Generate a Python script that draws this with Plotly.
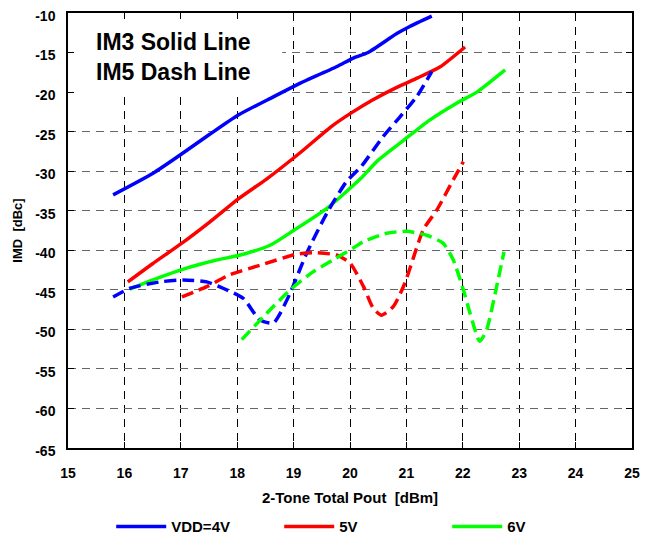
import plotly.graph_objects as go

# IM3 (solid) data
im3_4v_x = [15.8, 16.5, 17.02, 17.5, 18.02, 18.64, 19.11, 19.23, 19.76, 20.06, 20.32, 20.83, 21.06, 21.45]
im3_4v_y = [-33.0, -30.3, -27.8, -25.4, -22.9, -20.6, -18.9, -18.5, -16.8, -15.7, -15.0, -12.6, -11.7, -10.4]

im3_5v_x = [16.06, 16.5, 17.02, 17.5, 18.02, 18.52, 19.11, 19.68, 20.03, 20.4, 20.83, 21.2, 21.6, 22.04]
im3_5v_y = [-44.0, -41.7, -39.1, -36.5, -33.5, -31.0, -27.7, -24.3, -22.6, -21.0, -19.4, -18.2, -16.8, -14.3]

im3_6v_x = [16.1, 16.6, 17.13, 17.6, 18.11, 18.6, 19.0, 19.59, 20.18, 20.5, 20.95, 21.4, 21.89, 22.25, 22.75]
im3_6v_y = [-44.9, -43.5, -42.2, -41.3, -40.5, -39.3, -37.5, -34.7, -31.0, -28.6, -26.1, -23.6, -21.4, -20.0, -17.2]

# IM5 (dashed) data
im5_4v_x = [15.8, 16.1, 16.63, 17.04, 17.46, 17.75, 18.11, 18.4, 18.64, 18.76, 18.94, 19.23, 19.59, 19.94, 20.2, 20.59, 20.89, 21.18, 21.45]
im5_4v_y = [-45.9, -44.8, -44.0, -43.75, -44.0, -44.8, -46.1, -48.8, -49.2, -48.0, -45.4, -40.4, -35.3, -31.3, -29.4, -25.6, -23.1, -20.6, -17.4]

im5_5v_x = [17.02, 17.46, 17.87, 18.4, 19.05, 19.35, 19.76, 20.0, 20.24, 20.41, 20.56, 20.77, 20.97, 21.3, 21.54, 21.83, 22.01]
im5_5v_y = [-45.9, -44.6, -43.1, -41.9, -40.5, -40.3, -40.6, -41.6, -44.6, -47.3, -48.2, -47.1, -44.2, -37.4, -34.9, -31.1, -28.8]

im5_6v_x = [18.08, 18.52, 18.94, 19.35, 19.73, 20.05, 20.24, 20.65, 21.0, 21.36, 21.65, 21.83, 22.01, 22.13, 22.3, 22.42, 22.6, 22.73]
im5_6v_y = [-51.3, -48.0, -45.0, -42.7, -41.1, -39.75, -38.9, -37.85, -37.6, -38.1, -39.1, -41.2, -45.0, -48.0, -51.5, -50.1, -44.6, -40.2]

series_names = ["VDD=4V", "5V", "6V"]
colors = ["#0000FF", "#FF0000", "#00FF00"]

x_ticks = list(range(15, 26))
y_ticks = list(range(-65, -9, 5))
y_tick_text = [str(v) for v in y_ticks]

fig = go.Figure()

solid = [(im3_4v_x, im3_4v_y), (im3_5v_x, im3_5v_y), (im3_6v_x, im3_6v_y)]
dashed = [(im5_4v_x, im5_4v_y), (im5_5v_x, im5_5v_y), (im5_6v_x, im5_6v_y)]

for (sx, sy), name, c in zip(solid, series_names, colors):
    fig.add_trace(go.Scatter(x=sx, y=sy, mode="lines", name=name, legendgroup=name,
                             line=dict(color=c, width=3.5, shape="spline", smoothing=0.6)))
for (dx, dy), name, c in zip(dashed, series_names, colors):
    fig.add_trace(go.Scatter(x=dx, y=dy, mode="lines", name=name, legendgroup=name,
                             showlegend=False,
                             line=dict(color=c, width=3.5, dash="12px,6px", shape="spline", smoothing=0.6)))

# white box behind label text (hides grid)
fig.add_shape(type="rect", xref="x", yref="y", x0=15, x1=18.8, y0=-20.15, y1=-10,
              fillcolor="white", line=dict(width=0), layer="between")

fig.add_annotation(xref="paper", yref="paper", x=0.046, y=0.967, xanchor="left", yanchor="top",
                   text="IM3 Solid Line<br>IM5 Dash Line", showarrow=False, align="left",
                   font=dict(family="Liberation Sans, Arial", size=23, color="black", weight="bold"))

tick_font = dict(family="Liberation Sans, Arial", size=14, color="black", weight="bold")
xtitle_font = dict(family="Liberation Sans, Arial", size=15, color="black", weight="bold")
ytitle_font = dict(family="Liberation Sans, Arial", size=13, color="black", weight="bold")

fig.update_xaxes(range=[15, 25], tickvals=x_ticks, ticks="inside", ticklen=6, tickcolor="black",
                 showline=True, linecolor="black", linewidth=1.5, mirror="ticks",
                 showgrid=True, gridcolor="black", gridwidth=1, griddash="8px,6px",
                 zeroline=False, tickfont=tick_font, ticklabelstandoff=11, automargin=False,
                 ticklabeloverflow="allow",
                 title=dict(text="2-Tone Total Pout  [dBm]", font=xtitle_font, standoff=13))
fig.update_yaxes(range=[-65, -10], tickvals=y_ticks, ticktext=y_tick_text, ticks="inside", ticklen=6,
                 tickcolor="black",
                 showline=True, linecolor="black", linewidth=1.5, mirror="ticks",
                 showgrid=True, gridcolor="#666666", gridwidth=1, griddash="8px,6px",
                 zeroline=False, tickfont=tick_font, ticklabelstandoff=8, ticklabelshift=3,
                 automargin=False, ticklabeloverflow="allow",
                 title=dict(text="IMD  [dBc]", font=ytitle_font, standoff=10))

fig.update_layout(
    width=645, height=532,
    margin=dict(l=60, r=21, t=5, b=92),
    plot_bgcolor="white", paper_bgcolor="white",
    font=dict(family="Liberation Sans, Arial", color="black"),
    legend=dict(orientation="h", xref="container", yref="container", x=0.16, y=0.025,
                xanchor="left", yanchor="middle", entrywidth=103, entrywidthmode="pixels",
                font=dict(family="Liberation Sans, Arial", size=15, color="black", weight="bold"),
                itemwidth=50, tracegroupgap=0),
)

fig.write_html("out.html")
